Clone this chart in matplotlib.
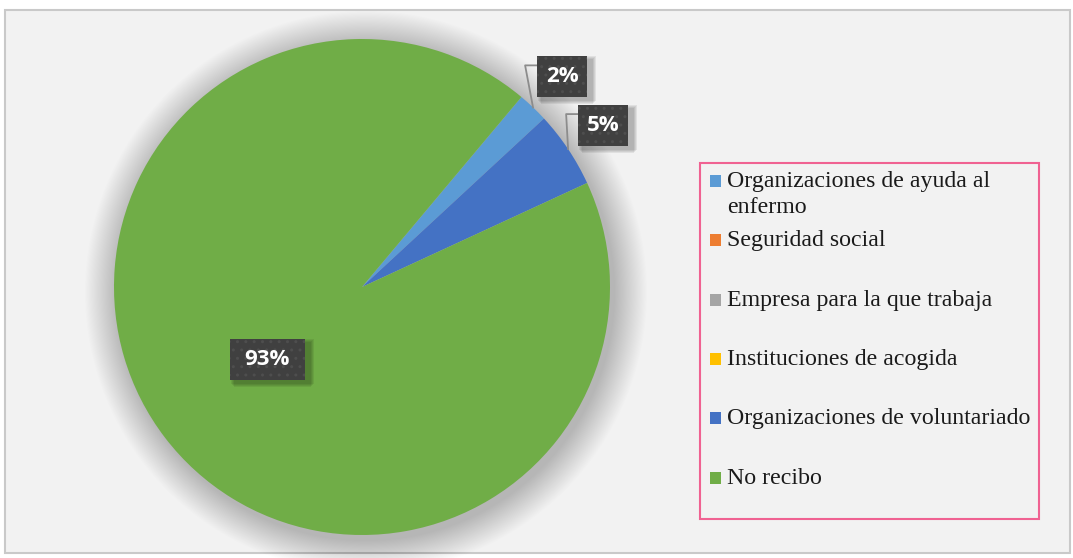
import numpy as np
import matplotlib
matplotlib.use("Agg")
import matplotlib.pyplot as plt
from matplotlib.patches import Rectangle, Circle

# data (percent)
categories = ["Organizaciones de ayuda al\nenfermo", "Seguridad social",
              "Empresa para la que trabaja", "Instituciones de acogida",
              "Organizaciones de voluntariado", "No recibo"]
values = [2, 0, 0, 0, 5, 93]
colors = ["#5b9bd5", "#ed7d31", "#a5a5a5", "#ffc000", "#4472c4", "#70ad47"]

W, H = 1073, 558
fig = plt.figure(figsize=(W / 100, H / 100), dpi=100)
fig.patch.set_facecolor("white")

# chart area with grey border
fig.patches.append(Rectangle((5 / W, 1 - 553 / H), 1065 / W, 543 / H,
                             transform=fig.transFigure, facecolor="#f2f2f2",
                             edgecolor="#c9c9c9", linewidth=1.5, zorder=-5))

# pie axes: centre (362, 287) px, radius 248 px
cx, cy, R = 362, 287, 248
half = 300
ax = fig.add_axes([(cx - half) / W, (H - cy - half) / H, 2 * half / W, 2 * half / H])
ax.set_zorder(1)
px = 1 / R  # one pixel in data units

# soft shadow behind the pie
for k in range(30, 0, -1):
    ax.add_patch(Circle((4 * px, -5 * px), 1 + k * 1.1 * px, facecolor="#000000",
                        alpha=0.009, edgecolor="none", zorder=0))

start = 50  # first slice begins ~40 deg clockwise from the top
wedges, _ = ax.pie(values, colors=colors, startangle=start, counterclock=False,
                   radius=1, wedgeprops=dict(linewidth=0))
for w in wedges:
    w.set_zorder(2)
ax.set_xlim(-half * px, half * px)
ax.set_ylim(-half * px, half * px)
ax.set_axis_off()

label_font = dict(family=["Open Sans", "DejaVu Sans"], fontsize=16,
                  fontweight="bold", color="white")

total = sum(values)
for w, v in zip(wedges, values):
    if v == 0:
        continue
    mid = np.deg2rad((w.theta1 + w.theta2) / 2)
    txt = f"{round(100 * v / total)}%"
    bh = 41 * px
    if v / total > 0.5:
        r = 0.48
        bw = 75 * px
        x, y = r * np.cos(mid), r * np.sin(mid)
    else:
        r = 1.17
        bw = 50 * px
        x, y = r * np.cos(mid), r * np.sin(mid)
        ex, ey = np.cos(mid), np.sin(mid)
        left = x - bw / 2
        top = y + bh / 2
        ax.plot([ex, left - 12 * px, left], [ey, top - 9 * px, top - 9 * px],
                color="#8c8c8c", linewidth=1.3, zorder=3)
    # blurred drop shadow
    for k in range(4):
        ax.add_patch(Rectangle((x - bw / 2 + (4 - k) * px, y - bh / 2 - (7 - k) * px),
                               bw + (2 + 2 * k) * px, bh + 4 * px,
                               facecolor="#000000", alpha=0.07, edgecolor="none",
                               zorder=4))
    ax.add_patch(Rectangle((x - bw / 2, y - bh / 2), bw, bh, facecolor="#404040",
                           edgecolor="#4e4e4e", hatch="..", linewidth=0, zorder=5))
    ax.text(x, y, txt, ha="center", va="center", zorder=6, **label_font)

# legend box
fig.patches.append(Rectangle((700 / W, 1 - 519 / H), 339 / W, 356 / H,
                             transform=fig.transFigure, facecolor="none",
                             edgecolor="#f06292", linewidth=1.5, zorder=5))
entry_y = [181, 240, 300, 359, 418, 478]
for lab, col, y in zip(categories, colors, entry_y):
    fig.patches.append(Rectangle((710 / W, 1 - (y + 6) / H), 11 / W, 12 / H,
                                 transform=fig.transFigure, facecolor=col,
                                 edgecolor="none", zorder=6))
    fig.text(727 / W, 1 - (y - 10) / H, lab, ha="left", va="top",
             family="Liberation Serif", fontsize=17.2, color="#1a1a1a",
             linespacing=1.32, zorder=6)

fig.savefig("out.png", dpi=100, facecolor=fig.get_facecolor())
